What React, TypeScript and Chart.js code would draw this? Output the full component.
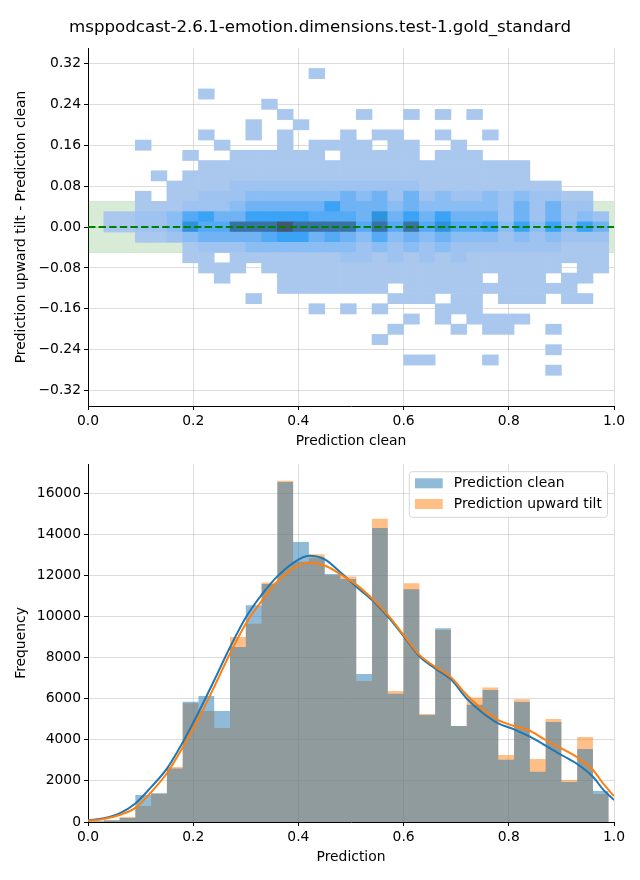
import React, { useEffect, useRef } from 'react';
import { Chart, registerables } from 'chart.js';

Chart.register(...registerables);

const TITLE = 'msppodcast-2.6.1-emotion.dimensions.test-1.gold_standard';
const FONT = 'DejaVu Sans';

// ---------- shared axis ticks ----------
const X_TICKS = [0, 0.2, 0.4, 0.6, 0.8, 1.0];
const DIFF_TICKS = [-0.32, -0.24, -0.16, -0.08, 0, 0.08, 0.16, 0.24, 0.32];
const FREQ_TICKS = [0, 2000, 4000, 6000, 8000, 10000, 12000, 14000, 16000];

// ---------- histogram bins (width 0.03) ----------
const BIN_CENTERS = [
  0.015, 0.045, 0.075, 0.105, 0.135, 0.165, 0.195, 0.225, 0.255, 0.285, 0.315,
  0.345, 0.375, 0.405, 0.435, 0.465, 0.495, 0.525, 0.555, 0.585, 0.615, 0.645,
  0.675, 0.705, 0.735, 0.765, 0.795, 0.825, 0.855, 0.885, 0.915, 0.945, 0.975,
];
const BIN_EDGES = [
  0, 0.03, 0.06, 0.09, 0.12, 0.15, 0.18, 0.21, 0.24, 0.27, 0.3, 0.33,
  0.36, 0.39, 0.42, 0.45, 0.48, 0.51, 0.54, 0.57, 0.6, 0.63, 0.66,
  0.69, 0.72, 0.75, 0.78, 0.81, 0.84, 0.87, 0.9, 0.93, 0.96, 0.99,
];

// ---------- top: 2D histogram (difference bins of 0.02) ----------
const DIFF_ROW_CENTERS = [
  0.3, 0.28, 0.26, 0.24, 0.22, 0.2, 0.18, 0.16, 0.14, 0.12, 0.1, 0.08, 0.06, 0.04, 0.02,
  0, -0.02, -0.04, -0.06, -0.08, -0.1, -0.12, -0.14, -0.16, -0.18, -0.2, -0.22, -0.24, -0.26, -0.28,
];
const DIFF_HALF = 0.01;
// intensity level per cell (0 = empty), one string per row, one char per x bin
const HEAT_ROWS = [
  '000000000000001000000000000000000', // 0.30
  '000000000000000000000000000000000', // 0.28
  '000000010000000000000000000000000', // 0.26
  '000000000001000000000000000000000', // 0.24
  '000000000000100001001010100000000', // 0.22
  '000000000010010000000000000000000', // 0.20
  '000000010010100010110010010000000', // 0.18
  '000100001000101111011001000000000', // 0.16
  '000000100111111011111011100000000', // 0.14
  '000000011111111111111111111100000', // 0.12
  '000010111111111111111111111100000', // 0.10
  '000001111222222222222111111111000', // 0.08
  '000101122233333343424232232322110', // 0.06
  '000111222344444644434333332424220', // 0.04
  '011223564466665554746464442424232', // 0.02
  '011223755888988885858575563636364', // 0.00
  '000112344445664543534343332323222', // -0.02
  '000000122233333332323232222222111', // -0.04
  '000000110111111122121212111111111', // -0.06
  '000000011101111111111111111111011', // -0.08
  '000000001000111111111111101110110', // -0.10
  '000000000000111111101111111111100', // -0.12
  '000000000010000000011101101110110', // -0.14
  '000000000000001010100011100000000', // -0.16
  '000000000000000000001010111100000', // -0.18
  '000000000000000000010001011001000', // -0.20
  '000000000000000000100000000000000', // -0.22
  '000000000000000000000000000001000', // -0.24
  '000000000000000000001100010000000', // -0.26
  '000000000000000000000000000001000', // -0.28
];
const HEAT_PALETTE = [
  'rgba(0,0,0,0)', '#aac8ee', '#9ec3f0', '#8abdf3', '#6fb3f5', '#55aaf6', '#3ba3f6', '#2e93dc', '#3a72a6', '#455570',
];
const BAND = 0.05;

// ---------- bottom: histograms ----------
const HIST_CLEAN = [
  40, 90, 190, 1310, 1400, 2600, 5850, 6130, 5400, 8510, 10550, 11580, 16550, 13620, 12870, 12070, 11830,
  7200, 14300, 6240, 11330, 5210, 9430, 4670, 5700, 6420, 3030, 5840, 2450, 4860, 1950, 3550, 1510,
];
const HIST_TILT = [
  30, 80, 240, 780, 1380, 2680, 5780, 5400, 4570, 9000, 9650, 11650, 16600, 12660, 13030, 12000, 11950,
  6860, 14750, 6370, 11620, 5260, 9340, 4670, 6060, 6550, 3260, 5970, 3060, 5010, 2040, 4130, 1360,
];
const KDE_X = [
  0, 0.03, 0.06, 0.09, 0.12, 0.15, 0.18, 0.21, 0.24, 0.27, 0.3, 0.33, 0.36, 0.39, 0.42, 0.45, 0.48, 0.51,
  0.54, 0.57, 0.6, 0.63, 0.66, 0.69, 0.72, 0.75, 0.78, 0.81, 0.84, 0.87, 0.9, 0.93, 0.96, 0.98, 1.0,
];
const KDE_CLEAN = [
  80, 180, 420, 900, 1700, 2600, 3870, 5330, 6900, 8500, 9950, 11050, 11950, 12600, 12950, 12780, 12150, 11450,
  10800, 10000, 9050, 8060, 7470, 6940, 6010, 5320, 4800, 4510, 4150, 3720, 3260, 2820, 2200, 1560, 1070,
];
const KDE_TILT = [
  60, 150, 340, 690, 1450, 2370, 3620, 5020, 6580, 8200, 9650, 10750, 11700, 12350, 12620, 12480, 12050, 11550,
  10880, 10080, 9100, 8130, 7550, 7040, 6180, 5480, 4960, 4670, 4440, 3990, 3580, 3150, 2530, 1850, 1260,
];
const FREQ_MAX = 17420;

const BLUE = '#1f77b4';
const ORANGE = '#ff7f0e';
const BLUE_A = 'rgba(31,119,180,0.5)';
const ORANGE_A = 'rgba(255,127,14,0.5)';
const GRID = 'rgba(160,160,160,0.36)';

const FS = 13.89;
const tickFont = { family: FONT, size: FS };

function fmtDiff(v: number) {
  const s = Math.abs(v).toFixed(2);
  return v < -1e-9 ? '\u2212' + s : s;
}

function xScale(title: string, height: number, titleBottom: number) {
  return {
    type: 'linear',
    min: 0,
    max: 1,
    offset: false,
    z: 1,
    grid: { offset: false, color: GRID, lineWidth: 1, tickLength: 4, tickColor: '#000', tickWidth: 1 },
    border: { display: true, color: '#000', width: 1 },
    ticks: { font: tickFont, color: '#000', padding: 3, maxRotation: 0, callback: (v: number) => Number(v).toFixed(1) },
    afterBuildTicks: (s: any) => { s.ticks = X_TICKS.map((v) => ({ value: v })); },
    afterFit: (s: any) => { s.height = height; },
    title: { display: true, text: title, font: tickFont, color: '#000', padding: { top: 0, bottom: titleBottom } },
  };
}

function yScaleBase(title: string) {
  return {
    z: 1,
    grid: { offset: false, color: GRID, lineWidth: 1, tickLength: 4, tickColor: '#000', tickWidth: 1 },
    border: { display: true, color: '#000', width: 1 },
    afterFit: (s: any) => { s.width = 88; },
    title: { display: true, text: title, font: tickFont, color: '#000', padding: { top: 13.5, bottom: 0 } },
  };
}

const legendPlugin = {
  id: 'innerLegend',
  afterDraw(chart: any) {
    const items = [
      { label: 'Prediction clean', color: BLUE_A },
      { label: 'Prediction upward tilt', color: ORANGE_A },
    ];
    const ctx = chart.ctx;
    ctx.save();
    ctx.font = `${FS}px "${FONT}"`;
    const textW = Math.max(...items.map((it) => ctx.measureText(it.label).width));
    const pad = 5.6;
    const handle = 27.8;
    const gap = 11.1;
    const w = pad + handle + gap + textW + pad;
    const h = 45.6;
    const right = chart.chartArea.right - 6.5;
    const top = chart.chartArea.top + 7.7;
    const left = right - w;
    ctx.beginPath();
    const r = 2.8;
    ctx.moveTo(left + r, top);
    ctx.lineTo(right - r, top);
    ctx.quadraticCurveTo(right, top, right, top + r);
    ctx.lineTo(right, top + h - r);
    ctx.quadraticCurveTo(right, top + h, right - r, top + h);
    ctx.lineTo(left + r, top + h);
    ctx.quadraticCurveTo(left, top + h, left, top + h - r);
    ctx.lineTo(left, top + r);
    ctx.quadraticCurveTo(left, top, left + r, top);
    ctx.closePath();
    ctx.fillStyle = 'rgba(255,255,255,0.8)';
    ctx.fill();
    ctx.strokeStyle = '#d6d6d6';
    ctx.lineWidth = 1;
    ctx.stroke();
    items.forEach((it, i) => {
      const cy = top + 11.6 + i * 20.7;
      ctx.fillStyle = it.color;
      ctx.fillRect(left + pad, cy - 5, handle, 10);
      ctx.fillStyle = '#000';
      ctx.textBaseline = 'middle';
      ctx.textAlign = 'left';
      ctx.fillText(it.label, left + pad + handle + gap, cy + 0.5);
    });
    ctx.restore();
  },
};

function topConfig(): any {
  const heat: any[] = [];
  HEAT_ROWS.forEach((row, r) => {
    const yc = DIFF_ROW_CENTERS[r];
    for (let k = 0; k < BIN_CENTERS.length; k++) {
      const l = Number(row[k] || '0');
      if (l > 0) heat.push({ x: BIN_CENTERS[k], y: [yc - DIFF_HALF, yc + DIFF_HALF], l });
    }
  });
  return {
    type: 'bar',
    data: {
      datasets: [
        {
          type: 'line', label: 'band top', data: [{ x: 0, y: BAND }, { x: 1, y: BAND }],
          borderColor: 'rgba(0,128,0,0.12)', borderWidth: 1, pointRadius: 0, fill: false, order: 10,
        },
        {
          type: 'line', label: 'band bottom', data: [{ x: 0, y: -BAND }, { x: 1, y: -BAND }],
          borderColor: 'rgba(0,128,0,0.12)', borderWidth: 1, pointRadius: 0,
          fill: '-1', backgroundColor: 'rgba(0,128,0,0.155)', order: 10,
        },
        {
          type: 'bar', label: 'counts', data: heat,
          backgroundColor: (c: any) => HEAT_PALETTE[(c.raw && c.raw.l) || 0],
          borderWidth: 0, barPercentage: 1, categoryPercentage: 1, grouped: false, order: 5,
        },
        {
          type: 'line', label: 'zero', data: [{ x: 0, y: 0 }, { x: 1, y: 0 }],
          borderColor: '#008000', borderWidth: 2, borderDash: [7.4, 3.2], pointRadius: 0, fill: false, order: 0,
        },
      ],
    },
    options: {
      animation: false,
      responsive: false,
      maintainAspectRatio: false,
      layout: { padding: { left: 0, right: 26, top: 48, bottom: 0 } },
      plugins: { legend: { display: false }, tooltip: { enabled: false } },
      scales: {
        x: xScale('Prediction clean', 44, 0.7),
        y: {
          ...yScaleBase('Prediction upward tilt - Prediction clean'),
          type: 'linear', min: -0.35, max: 0.35,
          ticks: { font: tickFont, color: '#000', padding: 3, callback: (v: number) => fmtDiff(Number(v)) },
          afterBuildTicks: (s: any) => { s.ticks = DIFF_TICKS.map((v) => ({ value: v })); },
        },
      },
    },
  };
}

// histogram drawn as a stepped, filled outline over the bin edges (one polygon, no seams between bars)
function histSteps(values: number[]) {
  return BIN_EDGES.map((x, i) => ({ x, y: values[Math.min(i, values.length - 1)] }));
}

function bottomConfig(): any {
  return {
    type: 'line',
    data: {
      datasets: [
        {
          label: 'kde upward tilt', data: KDE_X.map((x, i) => ({ x, y: KDE_TILT[i] })),
          borderColor: ORANGE, borderWidth: 2, pointRadius: 0, fill: false, cubicInterpolationMode: 'monotone', order: 0,
        },
        {
          label: 'kde clean', data: KDE_X.map((x, i) => ({ x, y: KDE_CLEAN[i] })),
          borderColor: BLUE, borderWidth: 2, pointRadius: 0, fill: false, cubicInterpolationMode: 'monotone', order: 1,
        },
        {
          label: 'Prediction clean', data: histSteps(HIST_CLEAN), stepped: true,
          backgroundColor: BLUE_A, borderColor: 'rgba(0,0,0,0)', borderWidth: 1, pointRadius: 0,
          fill: 'origin', order: 2,
        },
        {
          label: 'Prediction upward tilt', data: histSteps(HIST_TILT), stepped: true,
          backgroundColor: ORANGE_A, borderColor: 'rgba(0,0,0,0)', borderWidth: 1, pointRadius: 0,
          fill: 'origin', order: 3,
        },
      ],
    },
    options: {
      animation: false,
      responsive: false,
      maintainAspectRatio: false,
      layout: { padding: { left: 0, right: 26, top: 14, bottom: 0 } },
      plugins: { legend: { display: false }, tooltip: { enabled: false } },
      scales: {
        x: xScale('Prediction', 58, 14.7),
        y: {
          ...yScaleBase('Frequency'),
          type: 'linear', min: 0, max: FREQ_MAX,
          ticks: { font: tickFont, color: '#000', padding: 3, callback: (v: number) => String(Math.round(Number(v))) },
          afterBuildTicks: (s: any) => { s.ticks = FREQ_TICKS.map((v) => ({ value: v })); },
        },
      },
    },
    plugins: [legendPlugin],
  };
}

export default function App() {
  const topRef = useRef<HTMLCanvasElement>(null);
  const botRef = useRef<HTMLCanvasElement>(null);
  useEffect(() => {
    Chart.defaults.font.family = FONT;
    Chart.defaults.color = '#000';
    const c1 = new Chart(topRef.current as HTMLCanvasElement, topConfig());
    const c2 = new Chart(botRef.current as HTMLCanvasElement, bottomConfig());
    return () => {
      c1.destroy();
      c2.destroy();
    };
  }, []);
  return (
    <div style={{ position: 'absolute', left: 0, top: 0, width: 640, height: 880, background: '#fff', overflow: 'hidden' }}>
      <canvas ref={topRef} width={640} height={450} style={{ position: 'absolute', left: 0, top: 0, width: 640, height: 450 }} />
      <canvas ref={botRef} width={640} height={430} style={{ position: 'absolute', left: 0, top: 450, width: 640, height: 430 }} />
      <div
        style={{
          position: 'absolute', left: 0, top: 16.5, width: 640, textAlign: 'center',
          fontFamily: `"${FONT}"`, fontSize: 16.67, lineHeight: '20px', color: '#000', whiteSpace: 'nowrap',
        }}
      >
        {TITLE}
      </div>
    </div>
  );
}
